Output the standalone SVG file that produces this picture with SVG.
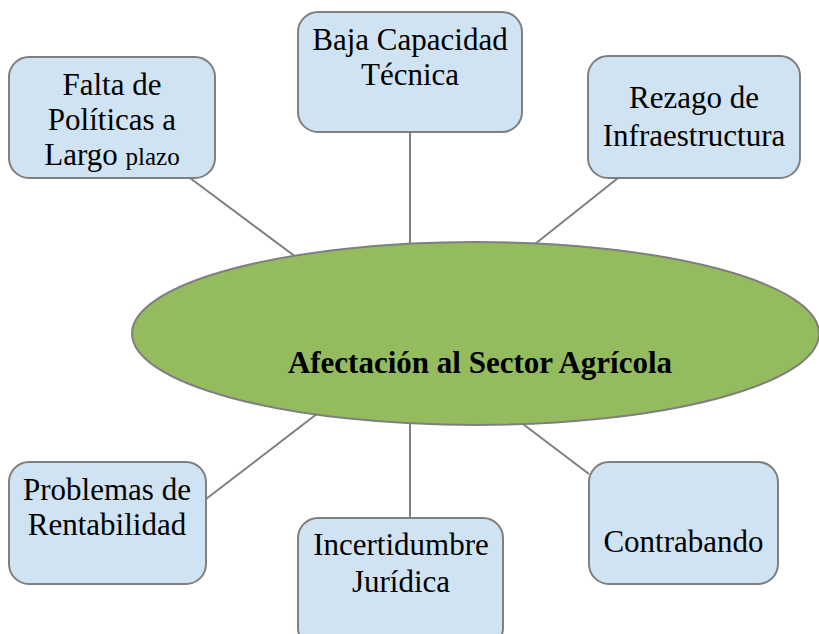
<svg xmlns="http://www.w3.org/2000/svg" width="819" height="634" viewBox="0 0 819 634">
<style>
.box{fill:#cfe3f2;stroke:#7f7f7f;stroke-width:2}
.ell{fill:#94bc5f;stroke:#7f7f7f;stroke-width:2}
.conn{stroke:#7f7f7f;stroke-width:2;fill:none}
.t{font-size:31px;fill:#000;text-anchor:middle}
.small{font-size:25px}
.title{font-weight:bold;font-size:31px}
</style>
<rect width="819" height="634" fill="#ffffff"/>
<g id="connectors">
<line class="conn" x1="190" y1="178" x2="300" y2="260"/>
<line class="conn" x1="410" y1="132" x2="410" y2="250"/>
<line class="conn" x1="618" y1="178" x2="530" y2="248"/>
<line class="conn" x1="206" y1="499" x2="322" y2="410"/>
<line class="conn" x1="410" y1="418" x2="410" y2="518"/>
<line class="conn" x1="589" y1="474" x2="515" y2="418"/>
</g>
<g font-family="Liberation Serif, DejaVu Serif, serif">
<g id="n-falta">
<rect class="box" x="9" y="57" width="206" height="121" rx="20"/>
<text class="t" x="112" y="95">Falta de</text>
<text class="t" x="112" y="130">Políticas a</text>
<text class="t" x="112" y="165">Largo <tspan class="small">plazo</tspan></text>
</g>
<g id="n-baja">
<rect class="box" x="298" y="12" width="224" height="120" rx="20"/>
<text class="t" x="410" y="50">Baja Capacidad</text>
<text class="t" x="410" y="85">Técnica</text>
</g>
<g id="n-rezago">
<rect class="box" x="588" y="56" width="212" height="122" rx="20"/>
<text class="t" x="694" y="108">Rezago de</text>
<text class="t" x="694" y="146">Infraestructura</text>
</g>
<g id="n-center">
<ellipse class="ell" cx="475.5" cy="333.5" rx="343.5" ry="91.5"/>
<text class="t title" x="480" y="373">Afectación al Sector Agrícola</text>
</g>
<g id="n-problemas">
<rect class="box" x="9" y="462" width="197" height="122" rx="20"/>
<text class="t" x="107" y="500">Problemas de</text>
<text class="t" x="107" y="535">Rentabilidad</text>
</g>
<g id="n-incertidumbre">
<rect class="box" x="298" y="518" width="205" height="130" rx="20"/>
<text class="t" x="401" y="555">Incertidumbre</text>
<text class="t" x="401" y="592">Jurídica</text>
</g>
<g id="n-contrabando">
<rect class="box" x="589" y="462" width="189" height="122" rx="20"/>
<text class="t" x="683.5" y="552">Contrabando</text>
</g>
</g>
</svg>
